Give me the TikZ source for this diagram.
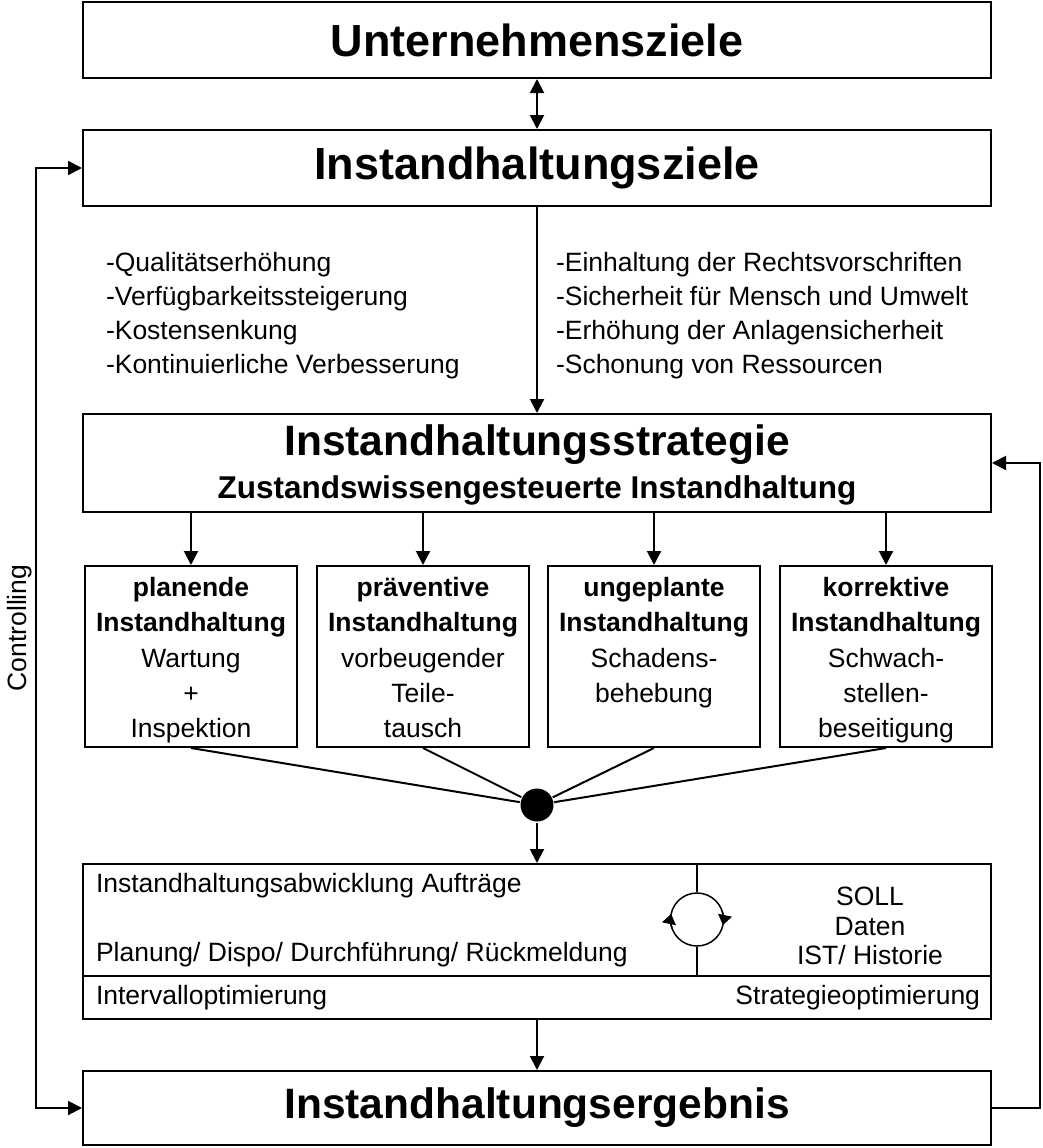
\documentclass[tikz,border=0pt]{standalone}
\usepackage{fontspec}
\setmainfont{Liberation Sans}
\usetikzlibrary{arrows.meta}

\newcommand{\bodyfont}{\fontsize{26.5}{34}\selectfont}
\newcommand{\boxfont}{\fontsize{26.5}{35.2}\selectfont}
\newcommand{\titlefont}{\fontsize{45}{50}\selectfont\bfseries}
\newcommand{\stitlefont}{\fontsize{42.5}{48}\selectfont\bfseries}

\begin{document}
\begin{tikzpicture}[
  x=1pt, y=-1pt,
  line width=2pt,
  >={Triangle[length=14pt,width=14pt]},
  bigbox/.style={draw, rectangle, minimum width=908pt, inner sep=0pt},
  subbox/.style={draw, rectangle, minimum width=212pt, minimum height=181pt, inner sep=0pt},
  boxtext/.style={anchor=north, inner sep=0pt, align=center, font=\boxfont},
  plain/.style={inner sep=0pt, font=\bodyfont},
  listtext/.style={plain, align=left},
  cyclehead/.style={line width=1.5pt, -{Triangle[length=10pt,width=14pt]}}
]
\useasboundingbox (0,0) rectangle (1042,1148);

% goal hierarchy
\node[bigbox, minimum height=76pt, font=\titlefont] (uz) at (537,40) {Unternehmensziele};
\node[bigbox, minimum height=76pt, font=\titlefont] (iz) at (537,168) {Instandhaltungsziele};

% lists of partial goals
\node[listtext, anchor=west] (listL) at (105,315.5)
  {-Qualitätserhöhung\\-Verfügbarkeitssteigerung\\-Kostensenkung\\-Kontinuierliche Verbesserung};
\node[listtext, anchor=west] (listR) at (555,315.5)
  {-Einhaltung der Rechtsvorschriften\\-Sicherheit für Mensch und Umwelt\\-Erhöhung der Anlagensicherheit\\-Schonung von Ressourcen};

% strategy
\node[bigbox, minimum height=98pt] (strat) at (537,463) {};
\node[inner sep=0pt, font=\stitlefont] (stratT) at (537,445) {Instandhaltungsstrategie};
\node[inner sep=0pt, font=\fontsize{31.5}{36}\selectfont\bfseries] (stratS) at (537,490)
  {Zustandswissengesteuerte Instandhaltung};

% four kinds of maintenance
\node[subbox] (b1) at (191,656.5) {};
\node[subbox] (b2) at (423,656.5) {};
\node[subbox] (b3) at (654,656.5) {};
\node[subbox] (b4) at (886,656.5) {};
\node[boxtext] (t1) at (191,571)
  {\strut\textbf{planende}\\\strut\textbf{Instandhaltung}\\\strut Wartung\\\strut+\\\strut Inspektion};
\node[boxtext] (t2) at (423,571)
  {\strut\textbf{präventive}\\\strut\textbf{Instandhaltung}\\\strut vorbeugender\\\strut Teile-\\\strut tausch};
\node[boxtext] (t3) at (654,571)
  {\strut\textbf{ungeplante}\\\strut\textbf{Instandhaltung}\\\strut Schadens-\\\strut behebung};
\node[boxtext] (t4) at (886,571)
  {\strut\textbf{korrektive}\\\strut\textbf{Instandhaltung}\\\strut Schwach-\\\strut stellen-\\\strut beseitigung};

\foreach \b in {b1,b2,b3,b4}
  \draw[->] (strat.south -| \b.north) -- (\b.north);

% junction
\node[circle, fill, minimum size=33pt, inner sep=0pt] (dot) at (537,805) {};
\foreach \b in {b1,b2,b3,b4}
  \draw (\b.south) -- (dot);

% order processing
\node[bigbox, minimum height=112pt] (lowA) at (537,920) {};
\node[bigbox, minimum height=43pt] (lowB) at (537,997.5) {};
\draw[->] (dot) -- (lowA.north);

\node[plain, anchor=west] (abw) at (95,886) {Instandhaltungsabwicklung Aufträge};
\node[plain, anchor=west] (plan) at (95,955) {Planung/ Dispo/ Durchführung/ Rückmeldung};
\node[plain, align=center, font=\fontsize{26.5}{29.5}\selectfont] (soll) at (870,926)
  {SOLL\\Daten\\IST/ Historie};
\node[plain, anchor=west] (intv) at (95,997.5) {Intervalloptimierung};
\node[plain, anchor=east] (stro) at (981,997.5) {Strategieoptimierung};

% cycle symbol
\node[circle, draw, line width=1.5pt, minimum size=53pt, inner sep=0pt] (cyc) at (697,919.5) {};
\draw[line width=1.5pt] (cyc.north) -- (cyc.north |- lowA.north);
\draw[line width=1.5pt] (cyc.south) -- (cyc.south |- lowA.south);
\draw[cyclehead]
  ([shift={(160:26.5)}]cyc.center) arc[start angle=160, end angle=192, radius=26.5];
\draw[cyclehead]
  ([shift={(-20:26.5)}]cyc.center) arc[start angle=-20, end angle=12, radius=26.5];

% result
\node[bigbox, minimum height=74pt, font=\stitlefont] (bot) at (537,1108) {Instandhaltungsergebnis};
\draw[->] (lowB.south) -- (bot.north);

% top link
\draw[<->] (uz.south) -- (iz.north);
\draw[->] (iz.south) -- (strat.north);

% controlling loop
\coordinate (cl) at (36,600);
\draw[<->] (iz.west) -| (cl) |- (bot.west);
\node[plain, rotate=90] (ctl) at (20,628) {Controlling};

% feedback loop
\coordinate (fb) at (1040,800);
\draw[->] (bot.east) -| (fb) |- (strat.east);
\end{tikzpicture}
\end{document}
